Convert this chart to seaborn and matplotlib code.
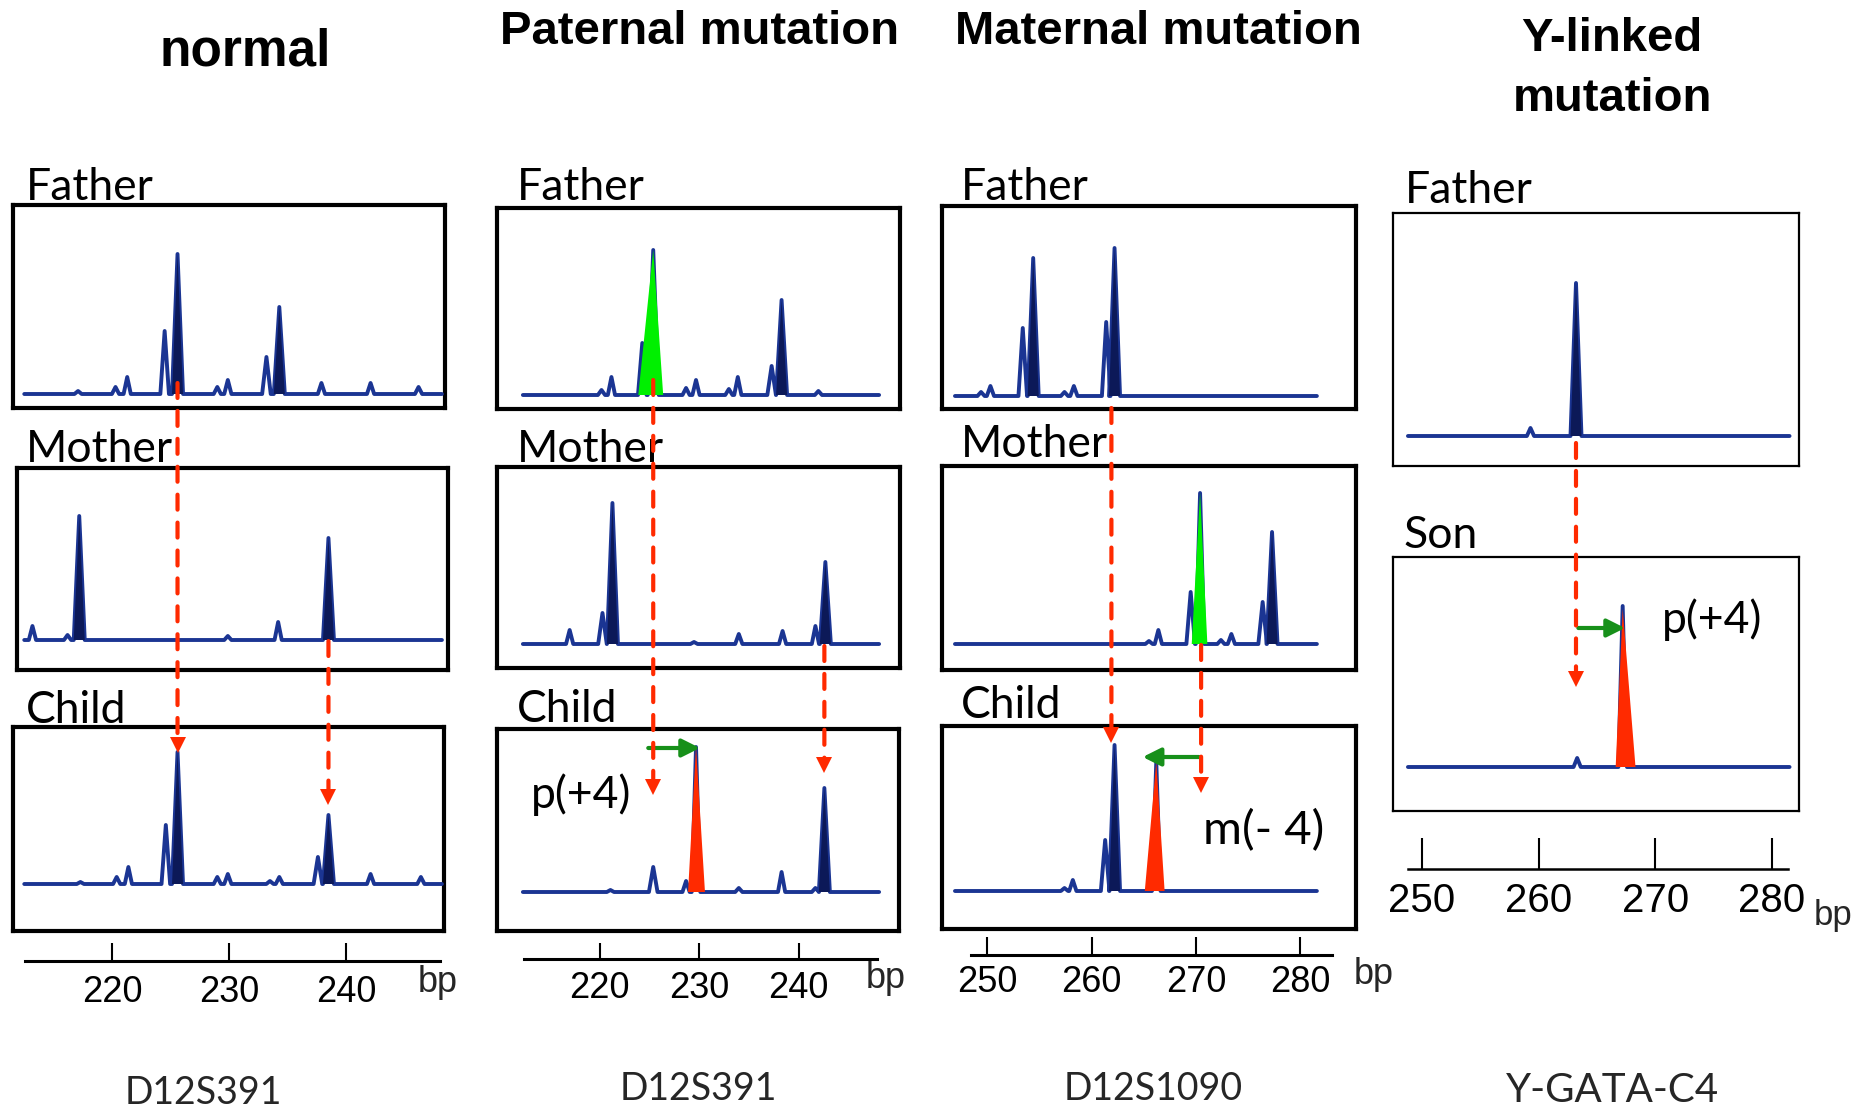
import numpy as np
import matplotlib
matplotlib.use("Agg")
import matplotlib.pyplot as plt
from matplotlib.patches import ConnectionPatch
import seaborn as sns

# ─── Peaks: size (bp), height (px), filled? ───
# normal – D12S391
NOR_FATHER_BP = [217.1, 220.3, 221.3, 224.5, 225.6, 229.0, 229.9, 233.2, 234.3, 237.9, 242.1, 246.2]
NOR_FATHER_H = [3, 7, 17, 63, 140, 7, 14, 37, 87, 11, 11, 7]
NOR_FATHER_FILL = [0, 0, 0, 0, 1, 0, 0, 0, 1, 0, 0, 0]
NOR_MOTHER_BP = [213.2, 216.2, 217.2, 229.9, 234.2, 238.5]
NOR_MOTHER_H = [14, 5, 124, 4, 18, 102]
NOR_MOTHER_FILL = [0, 0, 1, 0, 0, 1]
NOR_CHILD_BP = [217.3, 220.4, 221.4, 224.6, 225.6, 229.0, 229.9, 233.5, 234.3, 237.6, 238.5, 242.1, 246.4]
NOR_CHILD_H = [2, 7, 17, 59, 132, 7, 10, 3, 7, 27, 69, 10, 7]
NOR_CHILD_FILL = [0, 0, 0, 0, 1, 0, 0, 0, 0, 0, 1, 0, 0]

# paternal mutation – D12S391
PAT_FATHER_BP = [220.2, 221.2, 224.3, 225.4, 228.7, 229.7, 233.0, 233.9, 237.3, 238.3, 242.0]
PAT_FATHER_H = [5, 18, 52, 145, 7, 15, 6, 18, 29, 95, 4]
PAT_FATHER_FILL = [0, 0, 0, 1, 0, 0, 0, 0, 0, 1, 0]
PAT_MOTHER_BP = [217.0, 220.3, 221.3, 229.5, 234.0, 238.4, 241.7, 242.7]
PAT_MOTHER_H = [14, 31, 141, 2, 10, 13, 18, 82]
PAT_MOTHER_FILL = [0, 0, 1, 0, 0, 0, 0, 1]
PAT_CHILD_BP = [221.1, 225.4, 228.7, 229.7, 234.0, 238.3, 241.7, 242.6]
PAT_CHILD_H = [2, 25, 11, 145, 4, 20, 4, 104]
PAT_CHILD_FILL = [0, 0, 0, 0, 0, 0, 0, 1]

# maternal mutation – D12S1090
MAT_FATHER_BP = [249.4, 250.3, 253.4, 254.4, 257.4, 258.3, 261.4, 262.2]
MAT_FATHER_H = [4, 10, 68, 138, 4, 10, 74, 148]
MAT_FATHER_FILL = [0, 0, 0, 1, 0, 0, 0, 1]
MAT_MOTHER_BP = [265.5, 266.4, 269.5, 270.4, 272.4, 273.4, 276.4, 277.3]
MAT_MOTHER_H = [3, 14, 52, 151, 4, 10, 42, 112]
MAT_MOTHER_FILL = [0, 0, 0, 0, 0, 0, 0, 1]
MAT_CHILD_BP = [257.4, 258.2, 261.3, 262.2, 266.2]
MAT_CHILD_H = [3, 11, 51, 146, 129]
MAT_CHILD_FILL = [0, 0, 0, 1, 0]

# Y-linked mutation – Y-GATA-C4
Y_FATHER_BP = [259.3, 263.2]
Y_FATHER_H = [8, 153]
Y_FATHER_FILL = [0, 1]
Y_SON_BP = [263.3, 267.2]
Y_SON_H = [9, 161]
Y_SON_FILL = [0, 0]

# trace extent (bp) of each locus
NOR_SPAN = [212.5, 248.2]
PAT_SPAN = [212.3, 248.1]
MAT_SPAN = [246.9, 281.6]
Y_SPAN = [248.8, 281.5]

# highlighted (mutated / transmitted) alleles: apex bp, height, base from-to bp
PAT_GREEN = [225.4, 145, 223.9, 226.4]
PAT_RED = [229.7, 145, 228.9, 230.6]
MAT_GREEN = [270.4, 151, 269.6, 271.1]
MAT_RED = [266.2, 129, 265.1, 267.0]
Y_RED = [267.2, 158, 266.6, 268.3]

# scale ticks
TICKS_D12S391 = [220, 230, 240]
TICKS_HIGH = [250, 260, 270, 280]

W, H, DPI = 1872, 1112, 100
BLUE = "#1b3593"
NAVY = "#0c1958"
RED = "#ff2a00"
LIME = "#00f000"
GREEN = "#17901a"

# px <-> bp mapping of each locus: (reference bp, reference px, px per bp)
M_NOR = (230, 229, 11.7)
M_PAT = (230, 699, 9.95)
M_MAT = (265, 1143.75, 10.43)
M_Y = (265, 1597, 11.67)

sns.set_theme(style="white")
plt.rcParams["font.family"] = ["Liberation Sans", "DejaVu Sans"]

fig = plt.figure(figsize=(W / DPI, H / DPI), dpi=DPI)


def to_bp(px, m):
    return m[0] + (px - m[1]) / m[2]


def txt(x, y, s, **kw):
    fig.text(x / W, 1 - y / H, s, **kw)


def panel(box, m, bp, hts, fill, span, frame_lw=3.0):
    l, t, r, b, base = box
    ax = fig.add_axes([l / W, 1 - b / H, (r - l) / W, (b - t) / H])
    ax.set_xlim(to_bp(l, m), to_bp(r, m))
    ax.set_ylim(base - b, base - t)
    ax.set_xticks([])
    ax.set_yticks([])
    for s in ax.spines.values():
        s.set_visible(True)
        s.set_color("black")
        s.set_linewidth(frame_lw)
    xs, ys = [span[0]], [0]
    for p, hh, f in zip(bp, hts, fill):
        hw = (5.5 if f else (4.3 if hh > 20 else 3.6)) / m[2]
        xs += [p - hw, p, p + hw]
        ys += [0, hh, 0]
        if f:
            ax.fill([p - hw, p, p + hw], [0, hh, 0], color=NAVY, lw=0, zorder=4)
    xs.append(span[1])
    ys.append(0)
    sns.lineplot(x=xs, y=ys, ax=ax, color=BLUE, lw=2.8, estimator=None,
                 sort=False, zorder=3)
    return ax


def highlight(ax, spec, color):
    pos, hh, lo, hi = spec
    ax.fill([lo, pos, hi], [0, hh, 0], color=color, lw=0, zorder=5)


def red_drop(ax_a, ax_b, pos, y0, tip):
    con = ConnectionPatch(xyA=(pos, y0), coordsA=ax_a.transData,
                          xyB=(pos, tip + 15), coordsB=ax_b.transData,
                          color=RED, lw=3, linestyle=(0, (3.6, 3.1)), zorder=6)
    fig.add_artist(con)
    ax_b.plot([pos], [tip + 8.3], marker="v", ms=12, mew=0, color=RED,
              clip_on=False, zorder=7)


def shift_arrow(ax, frm, to, hh):
    ax.annotate("", xy=(to, hh), xytext=(frm, hh), annotation_clip=False,
                arrowprops=dict(arrowstyle="-|>", color=GREEN, lw=3,
                                shrinkA=0, shrinkB=0, mutation_scale=27),
                zorder=7)


def scale_bar(l, r, yline, m, ticks, tick_len, pad, fs, lw):
    ax = fig.add_axes([l / W, 1 - yline / H, (r - l) / W, 40 / H])
    ax.set_xlim(to_bp(l, m), to_bp(r, m))
    ax.set_ylim(0, 1)
    ax.patch.set_visible(False)
    for s in ("top", "left", "right"):
        ax.spines[s].set_visible(False)
    ax.spines["bottom"].set_color("black")
    ax.spines["bottom"].set_linewidth(lw)
    ax.set_xticks(ticks)
    ax.set_xticklabels([str(t) for t in ticks])
    ax.set_yticks([])
    ax.tick_params(axis="x", bottom=True, direction="in", length=tick_len * 0.72,
                   width=1.5, pad=pad * 0.72, labelsize=fs, colors="black")
    return ax


LABEL_FONT = dict(family=["Lato", "DejaVu Sans"], fontsize=32, color="black")
NOTE_FONT = dict(family=["Lato", "DejaVu Sans"], fontsize=32, color="black")
TITLE_FONT = dict(fontweight="bold", fontsize=34, color="black", ha="center", va="baseline")

# ─── normal ──────────────────────────────────────────────────────────────────
nf = panel((13, 205, 445, 408, 394), M_NOR, NOR_FATHER_BP, NOR_FATHER_H, NOR_FATHER_FILL, NOR_SPAN)
nm = panel((17, 468, 448, 670, 640), M_NOR, NOR_MOTHER_BP, NOR_MOTHER_H, NOR_MOTHER_FILL, NOR_SPAN)
nc = panel((13, 727, 444, 931, 884), M_NOR, NOR_CHILD_BP, NOR_CHILD_H, NOR_CHILD_FILL, NOR_SPAN)
red_drop(nf, nc, 225.6, 11, 131)
red_drop(nm, nc, 238.5, -1, 79)
scale_bar(25, 440, 961, M_NOR, TICKS_D12S391, 18, 14, 26, 2.2)

# ─── paternal mutation ───────────────────────────────────────────────────────
pf = panel((497, 208, 900, 409, 395), M_PAT, PAT_FATHER_BP, PAT_FATHER_H, PAT_FATHER_FILL, PAT_SPAN)
pm = panel((497, 467, 900, 668, 644), M_PAT, PAT_MOTHER_BP, PAT_MOTHER_H, PAT_MOTHER_FILL, PAT_SPAN)
pc = panel((497, 729, 899, 931, 892), M_PAT, PAT_CHILD_BP, PAT_CHILD_H, PAT_CHILD_FILL, PAT_SPAN)
highlight(pf, PAT_GREEN, LIME)
highlight(pc, PAT_RED, RED)
red_drop(pf, pc, 225.4, 15, 97)
red_drop(pm, pc, 242.6, -2, 119)
shift_arrow(pc, 224.9, 230.1, 144)
pc.text(213.1, 84, "p(+4)", ha="left", va="baseline", **NOTE_FONT)
scale_bar(524, 877, 959, M_PAT, TICKS_D12S391, 16, 12, 26, 2.2)

# ─── maternal mutation ───────────────────────────────────────────────────────
mf = panel((942, 206, 1356, 409, 396), M_MAT, MAT_FATHER_BP, MAT_FATHER_H, MAT_FATHER_FILL, MAT_SPAN)
mm = panel((942, 466, 1356, 670, 644), M_MAT, MAT_MOTHER_BP, MAT_MOTHER_H, MAT_MOTHER_FILL, MAT_SPAN)
mc = panel((942, 726, 1356, 929, 891), M_MAT, MAT_CHILD_BP, MAT_CHILD_H, MAT_CHILD_FILL, MAT_SPAN)
highlight(mm, MAT_GREEN, LIME)
highlight(mc, MAT_RED, RED)
red_drop(mf, mc, 261.9, -12, 148)
red_drop(mm, mc, 270.5, -1, 98)
shift_arrow(mc, 270.3, 264.9, 134)
mc.text(270.7, 47, "m(- 4)", ha="left", va="baseline",
        **dict(NOTE_FONT, fontsize=34))
scale_bar(971, 1332, 955, M_MAT, TICKS_HIGH, 18, 10, 26, 2.2)

# ─── Y-linked mutation ───────────────────────────────────────────────────────
yf = panel((1393, 213, 1799, 466, 436), M_Y, Y_FATHER_BP, Y_FATHER_H, Y_FATHER_FILL, Y_SPAN, 1.6)
ys = panel((1393, 557, 1799, 811, 767), M_Y, Y_SON_BP, Y_SON_H, Y_SON_FILL, Y_SPAN, 1.6)
highlight(ys, Y_RED, RED)
red_drop(yf, ys, 263.2, -7, 80)
shift_arrow(ys, 263.4, 267.4, 139)
ys.text(270.6, 134, "p(+4)", ha="left", va="baseline", **NOTE_FONT)
scale_bar(1408, 1788, 869, M_Y, TICKS_HIGH, 31, 13, 29, 1.8)

# ─── titles, row labels, locus names ─────────────────────────────────────────
txt(245, 65, "normal", **dict(TITLE_FONT, fontsize=37))
txt(700, 44, "Paternal mutation", **TITLE_FONT)
txt(1158, 44, "Maternal mutation", **TITLE_FONT)
txt(1612, 51, "Y-linked", **TITLE_FONT)
txt(1612, 111, "mutation", **TITLE_FONT)

for x, y, s in [(26, 200, "Father"), (26, 462, "Mother"), (26, 723, "Child"),
                (517, 200, "Father"), (517, 462, "Mother"), (517, 722, "Child"),
                (961, 200, "Father"), (961, 457, "Mother"), (961, 718, "Child"),
                (1405, 203, "Father"), (1403, 548, "Son")]:
    txt(x, y, s, ha="left", va="baseline", **LABEL_FONT)

for x, y in [(418, 983), (866, 979), (1354, 974)]:
    txt(x, y, "bp", ha="left", va="center", fontsize=26)
txt(1814, 915, "bp", ha="left", va="center", fontsize=25)

LOCUS_FONT = dict(family=["Lato", "DejaVu Sans"], fontsize=27, ha="center", va="baseline")
txt(203, 1104, "D12S391", **LOCUS_FONT)
txt(698, 1100, "D12S391", **LOCUS_FONT)
txt(1153, 1100, "D12S1090", **LOCUS_FONT)
txt(1612, 1102, "Y-GATA-C4", **dict(LOCUS_FONT, fontsize=29))

fig.savefig("out.png", dpi=DPI, facecolor="white")
plt.close(fig)
